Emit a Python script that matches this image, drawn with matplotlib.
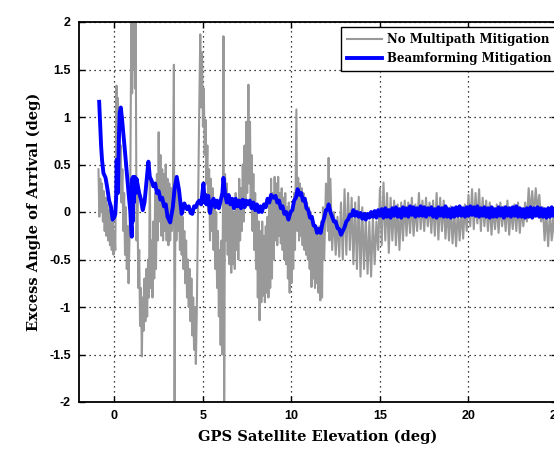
import matplotlib
matplotlib.use("Agg")
import matplotlib.pyplot as plt

# GPS elevation (deg) vs excess angle of arrival (deg)
gray_x = [
    -0.90, -0.85, -0.80, -0.75, -0.70, -0.65, -0.60, -0.55, -0.50, -0.45,
    -0.40, -0.35, -0.30, -0.25, -0.20, -0.15, -0.10, -0.05, 0.00, 0.05,
    0.08, 0.12, 0.16, 0.20, 0.24, 0.28, 0.32, 0.36, 0.40, 0.45,
    0.50, 0.55, 0.60, 0.65, 0.70, 0.75, 0.80, 0.85, 0.90,
    0.92, 0.96, 1.00, 1.04, 1.08, 1.12, 1.16, 1.20, 1.25, 1.30,
    1.35, 1.40, 1.45, 1.50, 1.55, 1.60,
    1.65, 1.70, 1.75, 1.80, 1.85, 1.90, 1.95, 2.00, 2.05, 2.10,
    2.15, 2.20, 2.25, 2.30, 2.35, 2.40, 2.45, 2.50, 2.55, 2.60,
    2.65, 2.70, 2.75, 2.80, 2.85, 2.90, 2.95, 3.00, 3.05, 3.10,
    3.15, 3.20, 3.25, 3.30,
    3.36, 3.40, 3.45, 3.50, 3.55, 3.60, 3.65, 3.70, 3.75, 3.80,
    3.85, 3.90, 3.95, 4.00, 4.05, 4.10, 4.15, 4.20, 4.25, 4.30,
    4.35, 4.40, 4.45, 4.50, 4.55, 4.60, 4.65,
    4.70, 4.75, 4.80, 4.85, 4.90, 4.95, 5.00, 5.05, 5.10, 5.15,
    5.20, 5.25, 5.30, 5.35, 5.40, 5.45, 5.50, 5.55, 5.60, 5.65,
    5.70, 5.75, 5.80, 5.85, 5.90, 5.95, 6.00, 6.05, 6.10,
    6.16, 6.20, 6.25, 6.30, 6.35, 6.40, 6.45, 6.50, 6.55, 6.60,
    6.65, 6.70, 6.75, 6.80, 6.85, 6.90, 6.95, 7.00, 7.05, 7.10,
    7.15, 7.20, 7.25, 7.30, 7.35, 7.40, 7.45, 7.50, 7.57,
    7.62, 7.66, 7.70, 7.75, 7.80, 7.85, 7.90, 7.95, 8.00, 8.05,
    8.10, 8.15, 8.20, 8.25, 8.30, 8.35, 8.40, 8.45, 8.50, 8.55,
    8.60, 8.65, 8.70, 8.75, 8.80, 8.85, 8.90, 8.95, 9.00, 9.05,
    9.10, 9.15, 9.20, 9.25, 9.30, 9.35, 9.40, 9.45, 9.50, 9.55,
    9.60, 9.65, 9.70, 9.75, 9.80, 9.85, 9.90, 9.95, 10.00, 10.05,
    10.10, 10.15, 10.20, 10.28, 10.33,
    10.38, 10.43, 10.48, 10.53, 10.58, 10.63, 10.68, 10.73, 10.78, 10.83,
    10.88, 10.93, 10.98, 11.03, 11.08, 11.13, 11.18, 11.23, 11.28, 11.33,
    11.38, 11.43, 11.48, 11.53, 11.58, 11.63, 11.68, 11.73, 11.78,
    11.85, 11.95, 12.05, 12.10, 12.15, 12.20, 12.30, 12.40, 12.50, 12.60,
    12.70, 12.80, 12.90, 13.00, 13.10, 13.20, 13.30, 13.40, 13.50, 13.60,
    13.70, 13.80, 13.90, 14.00, 14.10, 14.20, 14.30, 14.40, 14.50, 14.60,
    14.70, 14.80, 14.90, 15.00, 15.10, 15.20, 15.30, 15.40, 15.50, 15.60,
    15.70, 15.80, 15.90, 16.00, 16.10, 16.20, 16.30, 16.40, 16.50, 16.60,
    16.70, 16.80, 16.90, 17.00, 17.10, 17.20, 17.30, 17.40, 17.50, 17.60,
    17.70, 17.80, 17.90, 18.00, 18.10, 18.20, 18.30, 18.40, 18.50, 18.60,
    18.70, 18.80, 18.90, 19.00, 19.10, 19.20, 19.30, 19.40, 19.50, 19.60,
    19.70, 19.80, 19.90, 20.00, 20.10, 20.20, 20.30, 20.40, 20.50, 20.60,
    20.70, 20.80, 20.90, 21.00, 21.10, 21.20, 21.30, 21.40, 21.50, 21.60,
    21.70, 21.80, 21.90, 22.00, 22.10, 22.20, 22.30, 22.40, 22.50, 22.60,
    22.70, 22.80, 22.90, 23.00, 23.10, 23.20, 23.30, 23.40, 23.50, 23.60,
    23.70, 23.80, 23.90, 24.00, 24.10, 24.20, 24.30, 24.40, 24.50, 24.60,
    24.70, 24.80, 24.90, 25.00,
]
gray_y = [
    0.45, -0.05, 0.35, 0.00, 0.30, -0.10, 0.22, -0.20, 0.15, -0.25,
    0.08, -0.30, 0.02, -0.35, -0.05, -0.40, -0.10, -0.45, -0.20, -0.40,
    0.40, 1.33, 0.20, 1.20, 0.50, 0.95, 0.25, 0.70, 0.10, 0.45,
    -0.20, 0.20, -0.45, 0.05, -0.60, -0.15, -0.75, -0.30, 0.30,
    1.00, 2.10, 1.25, 2.10, 1.50, 2.10, 1.30, 2.10, -0.30, 0.20,
    -0.80, -0.40, -1.20, -0.80, -1.52, -0.90,
    -1.25, -0.70, -1.15, -0.60, -1.10, -0.50, -0.90, 0.45, -0.80, -0.30,
    -0.90, -0.10, -0.70, 0.20, -0.60, 0.40, -0.30, 0.84, -0.10, 0.60,
    -0.25, 0.45, -0.30, 0.40, -0.20, 0.50, -0.30, 0.35, -0.35, 0.30,
    -0.30, 0.25, -0.20, 0.10,
    1.55, -2.10, 0.37, -0.30, 0.30, -0.20, 0.25, -0.40, 0.05, -0.45,
    -0.05, -0.60, -0.20, -0.75, -0.30, -0.90, -0.50, -1.00, -0.60, -1.15,
    -0.70, -1.30, -0.90, -1.45, -1.00, -1.60, -1.10,
    -0.30, 0.60, 1.20, 1.87, 1.10, 1.68, 0.90, 1.30, 0.60, 0.97,
    0.30, 0.70, 0.00, 0.45, -0.30, 0.35, -0.20, 0.25, -0.40, 0.10,
    -0.60, 0.00, -0.80, -0.20, -1.10, -0.40, -1.40, -0.30, -1.50,
    1.85, -2.10, 0.40, -0.30, 0.30, -0.45, 0.15, -0.55, 0.05, -0.64,
    0.10, -0.55, 0.00, -0.60, 0.20, -0.40, 0.10, -0.50, 0.35, -0.30,
    0.25, -0.20, 0.50, -0.10, 0.70, 0.05, 0.95, 0.20, 1.34,
    0.30, 0.95, 0.10, 0.60, -0.20, 0.40, -0.40, 0.20, -0.60, 0.00,
    -0.90, -0.10, -1.14, -0.20, -0.95, -0.10, -0.88, -0.25, -0.95, -0.15,
    -0.85, -0.05, -0.90, 0.10, -0.80, 0.35, -0.70, 0.20, -0.50, 0.37,
    -0.30, 0.30, -0.35, 0.37, -0.25, 0.20, -0.33, 0.25, -0.40, 0.15,
    -0.50, 0.20, -0.55, 0.05, -0.70, 0.10, -0.85, 0.00, -0.75, 0.05,
    -0.60, 0.20, -0.40, 1.08, -0.20,
    0.36, -0.30, 0.30, -0.25, 0.25, -0.35, 0.20, -0.40, 0.15, -0.45,
    0.10, -0.50, 0.05, -0.60, 0.00, -0.79, -0.15, -0.70, -0.15, -0.80,
    -0.20, -0.75, -0.20, -0.85, -0.15, -0.93, -0.10, -0.90, 0.05,
    -0.50, 0.30, -0.20, 0.57, -0.30, 0.35, -0.40, 0.00, -0.45, -0.05,
    -0.47, 0.10, -0.50, 0.24, -0.45, 0.20, -0.40, 0.15, -0.55, 0.10,
    -0.60, 0.16, -0.68, 0.05, -0.60, -0.05, -0.65, -0.10, -0.68, -0.05,
    -0.55, -0.10, -0.40, 0.25, -0.35, 0.31, -0.30, 0.20, -0.43, 0.15,
    -0.30, 0.12, -0.35, 0.08, -0.40, 0.10, -0.30, 0.12, -0.25, 0.10,
    -0.22, 0.15, -0.25, 0.08, -0.20, 0.20, -0.18, 0.12, -0.20, 0.15,
    -0.15, 0.10, -0.22, 0.12, -0.25, 0.20, -0.29, 0.15, -0.20, 0.12,
    -0.28, 0.05, -0.30, 0.06, -0.33, 0.00, -0.36, 0.04, -0.30, 0.02,
    -0.28, 0.08, -0.20, 0.18, -0.15, 0.24, -0.18, 0.20, -0.12, 0.24,
    -0.20, 0.15, -0.15, 0.12, -0.20, 0.10, -0.24, 0.05, -0.18, 0.08,
    -0.22, 0.10, -0.15, 0.06, -0.20, 0.12, -0.24, 0.05, -0.18, 0.08,
    -0.20, 0.10, -0.22, 0.04, -0.15, 0.10, -0.10, 0.25, -0.03, 0.22,
    -0.05, 0.25, 0.00, 0.18, -0.10, 0.05, -0.30, -0.01, -0.36, 0.00,
    -0.30, -0.02, -0.33, -0.05,
]

blue_x = [
    -0.86, -0.80, -0.75, -0.70, -0.62, -0.50, -0.40, -0.30, -0.20, -0.10,
    0.00, 0.05, 0.10, 0.13, 0.16, 0.20, 0.25, 0.30, 0.36, 0.42,
    0.50, 0.60, 0.70, 0.80, 0.90, 0.98, 1.00, 1.03, 1.06, 1.10,
    1.15, 1.20, 1.25, 1.30, 1.40, 1.50, 1.60, 1.70, 1.80, 1.92,
    2.00, 2.10, 2.20, 2.30, 2.40, 2.50, 2.60, 2.70, 2.80, 2.90,
    3.00, 3.15, 3.30, 3.40, 3.52, 3.65, 3.80, 3.95, 4.10, 4.20,
    4.30, 4.40, 4.50, 4.60, 4.70, 4.80, 4.90, 5.03,
    5.10, 5.15, 5.20, 5.30, 5.40, 5.50, 5.60, 5.70, 5.80, 5.90,
    6.00, 6.10, 6.16, 6.25, 6.35, 6.45, 6.55, 6.65, 6.75, 6.85,
    6.95, 7.05, 7.15, 7.25, 7.35, 7.45, 7.55, 7.65, 7.75, 7.85,
    7.95, 8.05, 8.15, 8.25, 8.33, 8.45, 8.55, 8.65, 8.75, 8.85,
    8.98, 9.10, 9.20, 9.30, 9.40, 9.50, 9.60, 9.70, 9.83, 9.95,
    10.05, 10.15, 10.25, 10.35, 10.45, 10.55, 10.65, 10.75, 10.85, 10.95,
    11.05, 11.15, 11.25, 11.35, 11.45, 11.55, 11.65, 11.75, 11.85, 11.95,
    12.05, 12.10, 12.20, 12.30, 12.40, 12.50, 12.60, 12.70, 12.80, 12.90,
    13.00, 13.10, 13.20, 13.30, 13.40, 13.50, 13.60, 13.70, 13.80, 13.90,
    14.00, 14.10, 14.20, 14.30, 14.40, 14.50, 14.60, 14.70, 14.80, 14.90,
    15.00, 15.10, 15.20, 15.30, 15.40, 15.50, 15.60, 15.70, 15.80, 15.90,
    16.00, 16.10, 16.20, 16.30, 16.40, 16.50, 16.60, 16.70, 16.80, 16.90,
    17.00, 17.10, 17.20, 17.30, 17.40, 17.50, 17.60, 17.70, 17.80, 17.90,
    18.00, 18.10, 18.20, 18.30, 18.40, 18.50, 18.60, 18.70, 18.80, 18.90,
    19.00, 19.10, 19.20, 19.30, 19.40, 19.50, 19.60, 19.70, 19.80, 19.90,
    20.00, 20.10, 20.20, 20.30, 20.40, 20.50, 20.60, 20.70, 20.80, 20.90,
    21.00, 21.10, 21.20, 21.30, 21.40, 21.50, 21.60, 21.70, 21.80, 21.90,
    22.00, 22.10, 22.20, 22.30, 22.40, 22.50, 22.60, 22.70, 22.80, 22.90,
    23.00, 23.10, 23.20, 23.30, 23.40, 23.50, 23.60, 23.70, 23.80, 23.90,
    24.00, 24.10, 24.20, 24.30, 24.40, 24.50, 24.60, 24.70, 24.80, 24.90,
    25.00,
]
blue_y = [
    1.16, 0.90, 0.69, 0.55, 0.41, 0.36, 0.25, 0.12, 0.06, -0.08,
    -0.05, -0.02, 0.16, 0.55, 0.30, 0.20, 0.75, 1.05, 1.10, 1.00,
    0.84, 0.63, 0.41, 0.20, 0.00, -0.26, 0.35, -0.10, 0.37, 0.10,
    0.37, 0.20, 0.35, 0.30, 0.20, 0.13, 0.02, 0.10, 0.30, 0.53,
    0.37, 0.33, 0.27, 0.30, 0.20, 0.22, 0.13, 0.15, 0.06, 0.08,
    -0.05, -0.11, 0.05, 0.25, 0.37, 0.23, -0.02, 0.09, 0.03, 0.06,
    -0.01, -0.02, 0.06, 0.05, 0.10, 0.12, 0.08, 0.30,
    0.10, 0.18, 0.08, 0.17, -0.01, 0.10, 0.14, 0.05, 0.12, 0.04,
    0.12, 0.20, 0.36, 0.19, 0.10, 0.18, 0.08, 0.14, 0.04, 0.14,
    0.06, 0.12, 0.04, 0.13, 0.05, 0.12, 0.08, 0.12, 0.04, 0.10,
    0.02, 0.08, 0.00, 0.06, 0.00, 0.08, 0.05, 0.14, 0.10, 0.18,
    0.15, 0.17, 0.10, 0.12, 0.04, 0.06, -0.02, 0.00, -0.08, 0.00,
    0.02, 0.12, 0.15, 0.24, 0.18, 0.20, 0.12, 0.14, 0.04, 0.02,
    -0.06, -0.05, -0.14, -0.15, -0.22, -0.18, -0.22, -0.12, -0.06, 0.02,
    0.03, 0.08, 0.00, -0.05, -0.10, -0.10, -0.17, -0.18, -0.24, -0.20,
    -0.16, -0.10, -0.08, -0.03, -0.04, 0.02, -0.04, 0.00, -0.05, -0.01,
    -0.07, -0.02, -0.08, -0.02, -0.06, 0.00, -0.05, 0.01, -0.06, 0.02,
    -0.04, 0.03, -0.06, 0.04, -0.05, 0.02, -0.06, 0.04, -0.04, 0.05,
    -0.05, 0.03, -0.06, 0.05, -0.04, 0.04, -0.05, 0.06, -0.03, 0.05,
    -0.05, 0.04, -0.04, 0.06, -0.04, 0.05, -0.05, 0.04, -0.03, 0.05,
    -0.05, 0.03, -0.06, 0.05, -0.04, 0.04, -0.05, 0.06, -0.05, 0.03,
    -0.06, 0.04, -0.05, 0.05, -0.04, 0.06, -0.04, 0.04, -0.05, 0.05,
    -0.04, 0.06, -0.03, 0.05, -0.04, 0.06, -0.05, 0.04, -0.04, 0.05,
    -0.05, 0.04, -0.06, 0.05, -0.05, 0.03, -0.05, 0.05, -0.04, 0.04,
    -0.06, 0.05, -0.04, 0.04, -0.05, 0.05, -0.04, 0.06, -0.05, 0.04,
    -0.05, 0.03, -0.06, 0.04, -0.05, 0.05, -0.06, 0.04, -0.04, 0.05,
    -0.05, 0.04, -0.05, 0.03, -0.06, 0.04, -0.05, 0.05, -0.04, 0.04,
    -0.05,
]

x_ticks = [0, 5, 10, 15, 20, 25]
y_ticks = [-2, -1.5, -1, -0.5, 0, 0.5, 1, 1.5, 2]
y_tick_labels = ["-2", "-1.5", "-1", "-0.5", "0", "0.5", "1", "1.5", "2"]

fig = plt.figure(figsize=(5.54, 4.5), dpi=100)
# axes runs a little past the right edge of the picture, like the reference crop
ax = fig.add_axes([79 / 554, 48 / 450, 478 / 554, 380 / 450])

ax.plot(gray_x, gray_y, color="#999999", lw=1.5, label="No Multipath Mitigation")
ax.plot(blue_x, blue_y, color="#0000ff", lw=2.8, label="Beamforming Mitigation")

ax.set_xlim(-2, 25)
ax.set_ylim(-2, 2)
ax.set_xticks(x_ticks)
ax.set_yticks(y_ticks)
ax.set_yticklabels(y_tick_labels)
ax.set_axisbelow(True)
ax.grid(True, color="black", linestyle=(0, (1, 3)), linewidth=0.9)

for s in ax.spines.values():
    s.set_linewidth(1.3)
ax.tick_params(direction="in", top=True, right=True, length=4, width=1, pad=6)
for lab in ax.get_xticklabels() + ax.get_yticklabels():
    lab.set_fontfamily("Liberation Sans")
    lab.set_fontweight("bold")
    lab.set_fontsize(9)

label_font = dict(family="DejaVu Serif", weight="bold", size=10.5)
ax.set_xlabel("GPS Satellite Elevation (deg)", fontdict=label_font, labelpad=5)
ax.set_ylabel("Excess Angle of Arrival (deg)", fontdict=label_font, labelpad=6)

leg = ax.legend(loc="upper left", bbox_to_anchor=(0.548, 0.987), borderaxespad=0,
                fancybox=False, framealpha=1, edgecolor="black", handlelength=3.0,
                handletextpad=0.4, labelspacing=0.55, borderpad=0.5,
                prop=dict(family="DejaVu Serif", weight="bold", size=8.5))
leg.get_frame().set_linewidth(1.0)

fig.savefig("out.png", dpi=100)
